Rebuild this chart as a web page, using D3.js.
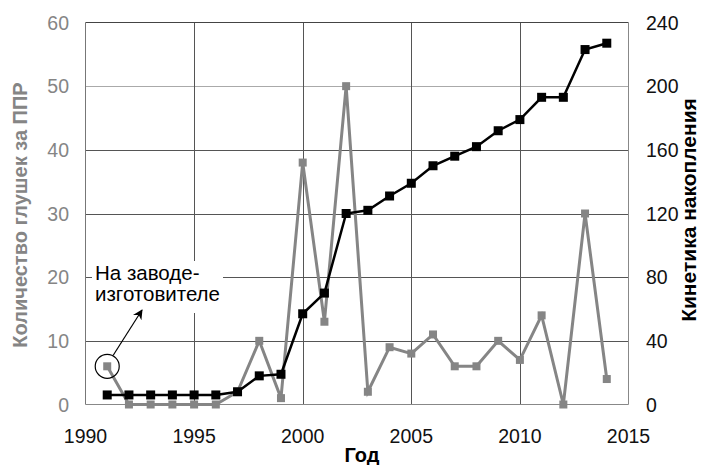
<!DOCTYPE html>
<html>
<head>
<meta charset="utf-8">
<script src="https://cdn.jsdelivr.net/npm/d3@7"></script>
<style>
  body { margin: 0; background: #fff; }
  svg text { font-family: "Liberation Sans", Arial, sans-serif; }
</style>
</head>
<body>
<svg id="chart" width="703" height="465"></svg>
<script>
// data
var years    = [1991, 1992, 1993, 1994, 1995, 1996, 1997, 1998, 1999, 2000, 2001, 2002,
                2003, 2004, 2005, 2006, 2007, 2008, 2009, 2010, 2011, 2012, 2013, 2014];
var plugs    = [6, 0, 0, 0, 0, 0, 2, 10, 1, 38, 13, 50, 2, 9, 8, 11, 6, 6, 10, 7, 14, 0, 30, 4];
var kinetics = [6, 6, 6, 6, 6, 6, 8, 18, 19, 57, 70, 120, 122, 131, 139, 150, 156, 162, 172, 179, 193, 193, 223, 227];
var xTicks   = [1990, 1995, 2000, 2005, 2010, 2015];
var leftTicks  = [0, 10, 20, 30, 40, 50, 60];
var rightTicks = [0, 40, 80, 120, 160, 200, 240];

var svg = d3.select("#chart");
var L = 85.5, R = 628.5, T = 22.5, B = 404.5;
var grey = "#858585";

var x  = d3.scaleLinear().domain([1990, 2015]).range([L, R]);
var yL = d3.scaleLinear().domain([0, 60]).range([B, T]);
var yR = d3.scaleLinear().domain([0, 240]).range([B, T]);

// grid
svg.append("g").selectAll("line").data(leftTicks.filter(function(d){ return d > 0 && d < 60; }))
  .enter().append("line")
    .attr("x1", L).attr("x2", R)
    .attr("y1", function(d){ return Math.round(yL(d)) + 0.5; })
    .attr("y2", function(d){ return Math.round(yL(d)) + 0.5; })
    .style("stroke", function(d){ return d === 50 ? "#aaa" : "#555"; })
    .style("stroke-width", 1);
svg.append("g").selectAll("line").data(xTicks.filter(function(d){ return d > 1990 && d < 2015; }))
  .enter().append("line")
    .attr("x1", function(d){ return Math.round(x(d)) + 0.5; })
    .attr("x2", function(d){ return Math.round(x(d)) + 0.5; })
    .attr("y1", T).attr("y2", B)
    .style("stroke", "#555").style("stroke-width", 1);

// frame
svg.append("line").attr("x1", L).attr("x2", R).attr("y1", T).attr("y2", T).style("stroke", "#444");
svg.append("line").attr("x1", L).attr("x2", L).attr("y1", T).attr("y2", B).style("stroke", "#777");
svg.append("line").attr("x1", R).attr("x2", R).attr("y1", T).attr("y2", B).style("stroke", "#888");
svg.append("line").attr("x1", L).attr("x2", R).attr("y1", B).attr("y2", B).style("stroke", "#888");

// annotation box (white behind the text)
svg.append("rect").attr("x", 92).attr("y", 261).attr("width", 131).attr("height", 52).style("fill", "#fff");

// tick labels
svg.append("g").selectAll("text").data(leftTicks).enter().append("text")
  .attr("x", 69).attr("y", function(d){ return yL(d) + 7; })
  .attr("text-anchor", "end").style("font-size", "19.5px").style("fill", grey)
  .text(function(d){ return d; });
svg.append("g").selectAll("text").data(rightTicks).enter().append("text")
  .attr("x", 646).attr("y", function(d){ return yR(d) + 7; })
  .attr("text-anchor", "start").style("font-size", "19.5px").style("fill", "#111")
  .text(function(d){ return d; });
svg.append("g").selectAll("text").data(xTicks).enter().append("text")
  .attr("x", function(d){ return x(d); }).attr("y", 443)
  .attr("text-anchor", "middle").style("font-size", "19.5px").style("fill", "#111")
  .text(function(d){ return d; });

// axis titles
svg.append("text").attr("transform", "translate(27,215) rotate(-90)")
  .attr("text-anchor", "middle").style("font-size", "20px").style("font-weight", "bold").style("fill", grey)
  .text("Количество глушек за ППР");
svg.append("text").attr("transform", "translate(696,210) rotate(-90)")
  .attr("text-anchor", "middle").style("font-size", "21px").style("font-weight", "bold").style("fill", "#000")
  .text("Кинетика накопления");
svg.append("text").attr("x", 362).attr("y", 462)
  .attr("text-anchor", "middle").style("font-size", "20px").style("font-weight", "bold").style("fill", "#000")
  .text("Год");

// grey series (left axis)
var lineL = d3.line().x(function(d, i){ return x(years[i]); }).y(function(d){ return yL(d); });
svg.append("path").datum(plugs).attr("d", lineL)
  .style("fill", "none").style("stroke", grey).style("stroke-width", 3);
svg.append("g").selectAll("rect").data(plugs).enter().append("rect")
  .attr("x", function(d, i){ return x(years[i]) - 4; })
  .attr("y", function(d){ return yL(d) - 4; })
  .attr("width", 8).attr("height", 8).style("fill", grey);

// black series (right axis)
var lineR = d3.line().x(function(d, i){ return x(years[i]); }).y(function(d){ return yR(d); });
svg.append("path").datum(kinetics).attr("d", lineR)
  .style("fill", "none").style("stroke", "#000").style("stroke-width", 2.5);
svg.append("g").selectAll("rect").data(kinetics).enter().append("rect")
  .attr("x", function(d, i){ return x(years[i]) - 4.5; })
  .attr("y", function(d){ return yR(d) - 4.5; })
  .attr("width", 9).attr("height", 9).style("fill", "#000");

// annotation
svg.append("defs").append("marker").attr("id", "arr")
  .attr("viewBox", "0 0 10 10").attr("refX", 9).attr("refY", 5)
  .attr("markerWidth", 10).attr("markerHeight", 10).attr("orient", "auto")
  .attr("markerUnits", "userSpaceOnUse")
  .append("path").attr("d", "M0,0 L10,5 L0,10 L3,5 Z").style("fill", "#000");
var cx = x(years[0]), cy = yL(plugs[0]);
svg.append("circle").attr("cx", cx).attr("cy", cy).attr("r", 12)
  .style("fill", "none").style("stroke", "#000").style("stroke-width", 1.2);
svg.append("line").attr("x1", cx + 6).attr("y1", cy - 11).attr("x2", 142).attr("y2", 310)
  .style("stroke", "#000").style("stroke-width", 1.2).attr("marker-end", "url(#arr)");
svg.append("text").attr("x", 95).attr("y", 280).style("font-size", "20.5px").style("fill", "#000").text("На заводе-");
svg.append("text").attr("x", 95).attr("y", 301).style("font-size", "20.5px").style("fill", "#000").text("изготовителе");
</script>
</body>
</html>
